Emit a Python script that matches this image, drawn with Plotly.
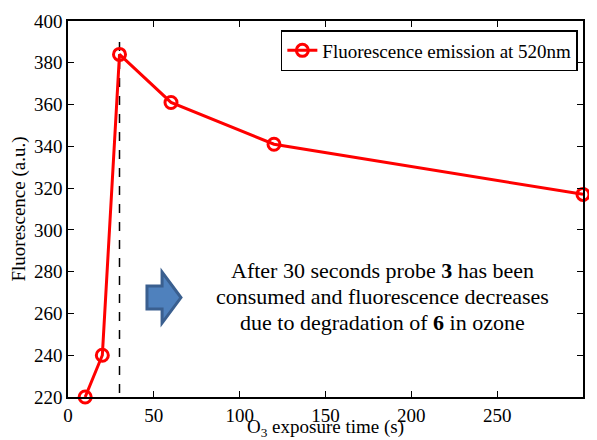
import plotly.graph_objects as go

time_s = [10, 20, 30, 60, 120, 300]
fluorescence = [220, 240, 384, 361, 341, 317]
series_name = "Fluorescence emission at 520nm"
x_ticks = [0, 50, 100, 150, 200, 250, 300]
y_ticks = [220, 240, 260, 280, 300, 320, 340, 360, 380, 400]
marker_time = 30
note_lines = [
    "After 30 seconds probe <b>3</b> has been",
    "consumed and fluorescence decreases",
    "due to degradation of <b>6</b> in ozone",
]

font_family = "Liberation Serif"

fig = go.Figure()
fig.add_trace(go.Scatter(
    x=time_s, y=fluorescence, mode="lines+markers", name=series_name,
    line=dict(color="#ff0000", width=3),
    marker=dict(symbol="circle-open", size=12, color="#ff0000", line=dict(width=3, color="#ff0000")),
    cliponaxis=False,
))

# dashed vertical line at 30 s
fig.add_shape(type="line", x0=marker_time, x1=marker_time, y0=221.9, y1=393.3,
              line=dict(color="black", width=1.5, dash="dash"), layer="below")

# block arrow
ax0, ax1, ax2 = 46.0, 54.8, 65.8
yc = 267.6
body_h = 5.5
head_h = 12.2
path = (f"M {ax0},{yc-body_h} L {ax1},{yc-body_h} L {ax1},{yc-head_h} L {ax2},{yc} "
        f"L {ax1},{yc+head_h} L {ax1},{yc+body_h} L {ax0},{yc+body_h} Z")
fig.add_shape(type="path", path=path, fillcolor="#4f81bd",
              line=dict(color="#3a5f8f", width=3))

for i, line in enumerate(note_lines):
    fig.add_annotation(
        x=0.61, y=0.268, xref="paper", yref="paper", showarrow=False,
        yshift=26 * (1 - i),
        text=line, xanchor="center", yanchor="middle",
        font=dict(family=font_family, size=22, color="black"), align="center",
    )

axis_common = dict(
    showline=True, linecolor="black", linewidth=1.5, mirror="ticks",
    ticks="inside", ticklen=6, tickcolor="black", tickwidth=1,
    showgrid=False, zeroline=False, automargin=False,
    tickfont=dict(family=font_family, size=19, color="black"),
)

# page body has an 8px default margin, so the figure is shrunk by 8px to fit the window
fig.update_layout(
    width=589, height=432,
    margin=dict(l=60, r=14, t=13, b=43),
    paper_bgcolor="white", plot_bgcolor="white",
    font=dict(family=font_family, color="black"),
    showlegend=True,
    legend=dict(x=0.99, y=0.976, xanchor="right", yanchor="top",
                bordercolor="black", borderwidth=1.5, bgcolor="white",
                font=dict(family=font_family, size=19, color="black"),
                itemwidth=30, tracegroupgap=0),
    xaxis=dict(range=[0, 300], tickvals=x_ticks,
               title=dict(text="O<sub>3</sub> exposure time (s)", standoff=0,
                          font=dict(family=font_family, size=19, color="black")),
               **axis_common),
    yaxis=dict(range=[220, 400], tickvals=y_ticks,
               title=dict(text="Fluorescence (a.u.)", standoff=4,
                          font=dict(family=font_family, size=19, color="black")),
               **axis_common),
)

fig.write_html("out.html")
